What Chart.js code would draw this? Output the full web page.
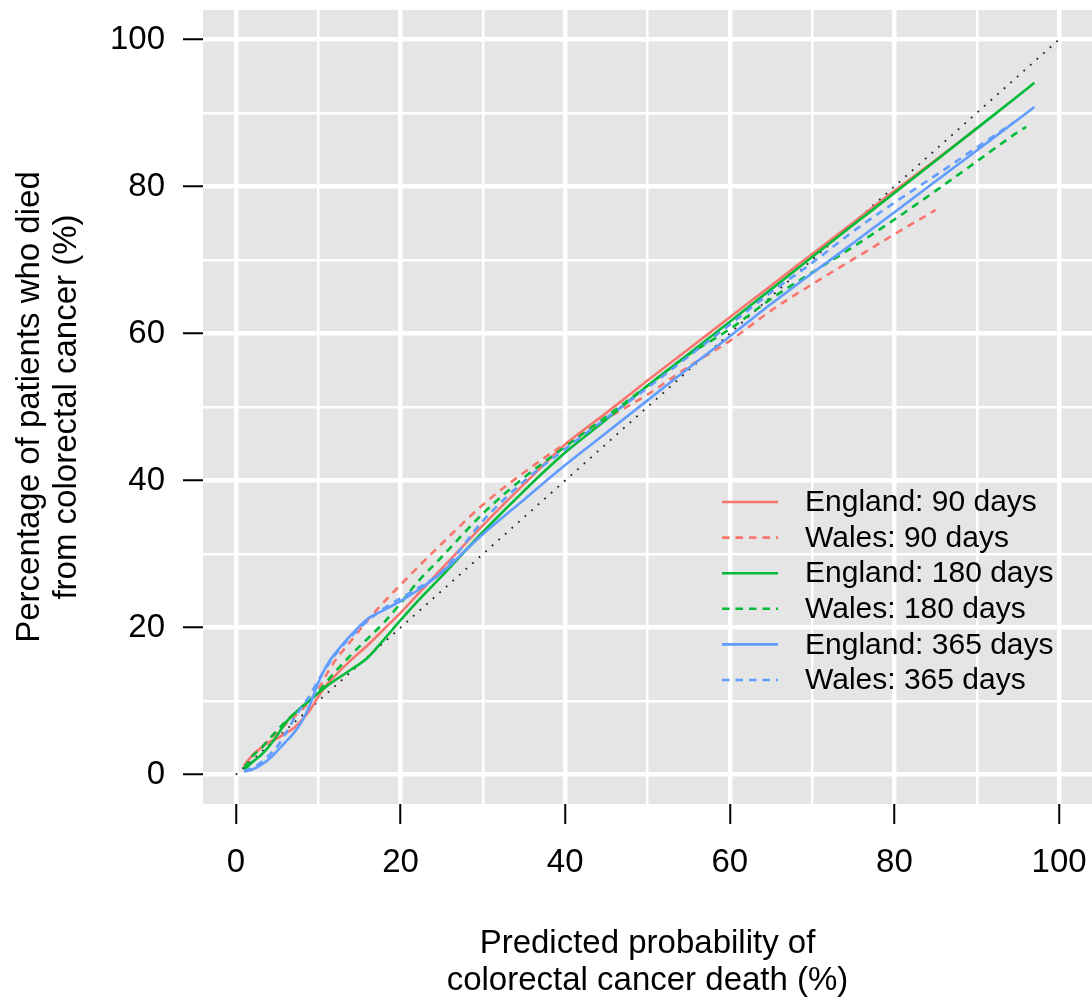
<!DOCTYPE html>
<html>
<head>
<meta charset="utf-8">
<script src="https://cdn.jsdelivr.net/npm/chart.js@4.4.1/dist/chart.umd.min.js"></script>
<style>
  html, body { margin: 0; padding: 0; background: #ffffff; }
  #wrap { width: 1092px; height: 1003px; }
</style>
</head>
<body>
<div id="wrap"><canvas id="c" width="1092" height="1003"></canvas></div>
<script>
// ---- Data ----
const seriesLabels = ["England: 90 days", "Wales: 90 days", "England: 180 days", "Wales: 180 days", "England: 365 days", "Wales: 365 days"];

const xEngland90 = [1,2,3,4,5,6,7,8,9,10,11,12,14,16,18,20,22,25,30,35,40,45,50,55,60,65,70,75,80,85,90];
const yEngland90 = [1.3,2.6,3.6,4.4,4.9,5.6,6.3,7.4,8.8,10.6,12.2,13.4,15.6,17.6,19.8,22.0,24.4,28.0,33.9,39.5,44.9,49.2,53.6,57.9,62.2,66.5,70.8,75.1,79.4,83.6,87.9];

const xWales90 = [1,2,3,4,5,6,7,8,9,10,11,12,14,16,18,20,22,25,30,35,40,45,50,55,60,65,70,75,80,85];
const yWales90 = [1.1,2.6,3.6,4.7,5.7,6.8,7.8,8.8,10.0,11.6,13.6,15.4,18.2,21.0,23.5,25.8,28.1,31.4,36.7,41.1,45.0,48.4,51.7,55.5,59.0,63.1,66.7,70.1,73.5,76.8];

const xEngland180 = [1,2,3,4,5,6,7,8,9,10,11,12,14,16,18,20,22,25,30,35,40,45,50,55,60,65,70,75,80,85,90,95,97];
const yEngland180 = [0.6,1.7,2.6,3.8,5.3,7.0,8.2,9.2,10.1,11.1,12.0,12.8,14.3,15.9,18.4,21.0,23.5,27.0,33.0,38.6,43.8,48.3,52.9,57.2,61.6,66.0,70.4,74.8,79.1,83.5,87.9,92.3,94.1];

const xWales180 = [1,2,3,4,5,6,7,8,9,10,11,12,14,16,18,20,22,25,30,35,40,45,50,55,60,65,70,75,80,85,90,95,96];
const yWales180 = [0.9,2.5,3.5,4.8,6.0,7.2,8.2,9.2,10.1,11.2,12.6,13.9,16.3,18.5,20.7,23.3,26.1,29.6,35.5,40.4,44.6,48.7,52.9,57.1,60.6,64.7,68.3,71.8,75.5,79.4,83.4,87.4,88.1];

const xEngland365 = [1,2,3,4,5,6,7,8,9,10,11,12,14,16,18,20,22,25,30,35,40,45,50,55,60,65,70,75,80,85,90,95,97];
const yEngland365 = [0.4,0.7,1.3,2.1,3.2,4.4,5.6,7.2,9.5,12.5,14.8,16.4,19.0,21.2,22.4,23.6,25.0,27.5,32.7,37.4,42.1,46.5,50.9,55.3,59.6,64.0,68.2,72.3,76.5,80.7,84.9,89.1,90.8];

const xWales365 = [1,2,3,4,5,6,7,8,9,10,11,12,14,16,18,20,22,25,30,35,40,45,50,55,60,65,70,75,80,85,90,94.5];
const yWales365 = [0.5,0.9,1.6,2.6,3.8,5.5,7.5,9.2,10.8,12.8,14.6,16.2,18.8,20.9,22.6,24.0,25.3,27.6,34.5,39.9,44.3,48.5,52.6,56.9,61.2,65.6,69.6,73.9,77.8,81.5,85.3,88.7];

const xDiagonal = [0, 100];
const yDiagonal = [0, 100];

const gridValues = [0,10,20,30,40,50,60,70,80,90,100];
const labelledTicks = [0,20,40,60,80,100];

const xTitle = ["Predicted probability of", "colorectal cancer death (%)"];
const yTitle = ["Percentage of patients who died", "from colorectal cancer (%)"];

// ---- Styles ----
const RED = "#F8766D", GREEN = "#00BA38", BLUE = "#619CFF";
const FONT = "'Liberation Sans', Arial, sans-serif";

function pts(xs, ys) { return xs.map((x, i) => ({ x: x, y: ys[i] })); }

const seriesX = [xEngland90, xWales90, xEngland180, xWales180, xEngland365, xWales365];
const seriesY = [yEngland90, yWales90, yEngland180, yWales180, yEngland365, yWales365];
const seriesColors = [RED, RED, GREEN, GREEN, BLUE, BLUE];
const seriesDashed = [false, true, false, true, false, true];
const DASH = [7.5, 6];
const LW = 2.6;

const datasets = seriesLabels.map((lab, i) => ({
  label: lab,
  data: pts(seriesX[i], seriesY[i]),
  borderColor: seriesColors[i],
  backgroundColor: seriesColors[i],
  borderWidth: LW,
  borderDash: seriesDashed[i] ? DASH : [],
  pointRadius: 0,
  showLine: true,
  fill: false,
  cubicInterpolationMode: 'monotone',
  order: 10 - i
}));
datasets.push({
  label: "diagonal",
  data: pts(xDiagonal, yDiagonal),
  borderColor: "#222222",
  borderWidth: 1.8,
  borderDash: [1.8, 7],
  borderCapStyle: 'butt',
  pointRadius: 0,
  showLine: true,
  fill: false,
  order: 20
});

const panelBg = {
  id: 'panelBg',
  beforeDraw(chart) {
    const { ctx, chartArea: a } = chart;
    ctx.save();
    ctx.fillStyle = '#E5E5E5';
    ctx.fillRect(a.left, a.top, a.right - a.left, a.bottom - a.top);
    ctx.restore();
  }
};

const legendPlugin = {
  id: 'inLegend',
  afterDatasetsDraw(chart) {
    const ctx = chart.ctx;
    ctx.save();
    ctx.font = "30px " + FONT;
    ctx.textBaseline = 'middle';
    ctx.textAlign = 'left';
    seriesLabels.forEach((lab, i) => {
      const y = 502 + i * 35.6;
      ctx.beginPath();
      ctx.strokeStyle = seriesColors[i];
      ctx.lineWidth = LW;
      ctx.setLineDash(seriesDashed[i] ? DASH : []);
      ctx.moveTo(722, y);
      ctx.lineTo(778, y);
      ctx.stroke();
      ctx.setLineDash([]);
      ctx.fillStyle = '#000';
      ctx.fillText(lab, 805, y + 1);
    });
    ctx.restore();
  }
};

function axisCommon(titleLines, titlePadding) {
  return {
    type: 'linear',
    min: -4,
    max: 104,
    afterBuildTicks(axis) { axis.ticks = gridValues.map(v => ({ value: v })); },
    border: { display: false },
    grid: {
      color: '#FFFFFF',
      lineWidth: (c) => (c.tick && labelledTicks.includes(c.tick.value)) ? 4.5 : 2.5,
      drawTicks: true,
      tickLength: 20,
      tickWidth: 2,
      tickColor: (c) => (c.tick && labelledTicks.includes(c.tick.value)) ? '#000000' : 'rgba(0,0,0,0)'
    },
    ticks: {
      autoSkip: false,
      maxRotation: 0,
      color: '#000000',
      font: { family: FONT, size: 33 },
      callback: (v) => labelledTicks.includes(v) ? String(v) : ''
    },
    title: {
      display: true,
      text: titleLines,
      color: '#000000',
      font: { family: FONT, size: 33, lineHeight: 1.12 },
      padding: titlePadding
    }
  };
}

const xScale = axisCommon(xTitle, { top: 0, bottom: 4 });
xScale.position = 'bottom';
xScale.ticks.padding = 19;
xScale.afterFit = (s) => { s.height = 199; s.paddingLeft = 0; s.paddingRight = 0; };

const yScale = axisCommon(yTitle, { top: 11.5, bottom: 0 });
yScale.position = 'left';
yScale.ticks.padding = 18;
yScale.afterFit = (s) => { s.width = 203; s.paddingTop = 0; s.paddingBottom = 0; };

new Chart(document.getElementById('c'), {
  type: 'scatter',
  data: { datasets: datasets },
  options: {
    responsive: false,
    devicePixelRatio: 1,
    animation: false,
    layout: { padding: { top: 10, right: 0, left: 0, bottom: 0 } },
    plugins: {
      legend: { display: false },
      tooltip: { enabled: false }
    },
    scales: { x: xScale, y: yScale }
  },
  plugins: [panelBg, legendPlugin]
});
</script>
</body>
</html>
